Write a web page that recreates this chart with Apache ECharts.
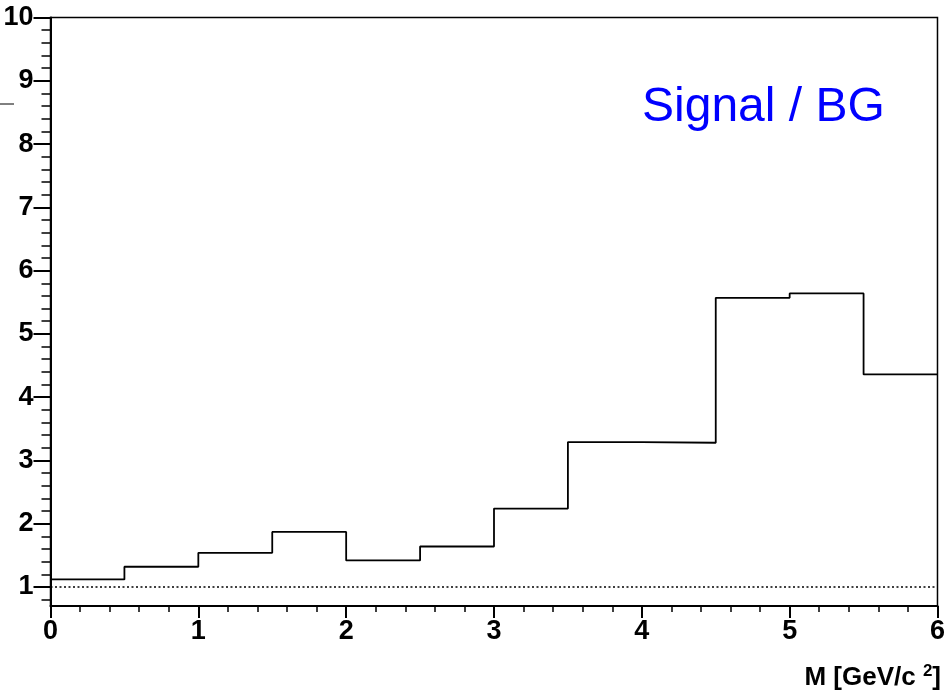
<!DOCTYPE html>
<html>
<head>
<meta charset="utf-8">
<script src="https://cdn.jsdelivr.net/npm/echarts@6/dist/echarts.min.js"></script>
<style>html,body{margin:0;padding:0;background:#fff}#c{width:948px;height:690px}</style>
</head>
<body>
<div id="c"></div>
<script>
// Histogram bins (lower edges), bin width 0.5 GeV/c^2
const binLow = [0, 0.5, 1.0, 1.5, 2.0, 2.5, 3.0, 3.5, 4.0, 4.5, 5.0, 5.5];
const binHighLast = 6.0;
const ratio = [1.12, 1.32, 1.54, 1.87, 1.42, 1.64, 2.24, 3.29, 3.28, 5.57, 5.64, 4.36];
const yMajorTicks = [1, 2, 3, 4, 5, 6, 7, 8, 9, 10];
const yMinorTicks = [0.8, 1.2, 1.4, 1.6, 1.8, 2.2, 2.4, 2.6, 2.8, 3.2, 3.4, 3.6, 3.8,
  4.2, 4.4, 4.6, 4.8, 5.2, 5.4, 5.6, 5.8, 6.2, 6.4, 6.6, 6.8, 7.2, 7.4, 7.6, 7.8,
  8.2, 8.4, 8.6, 8.8, 9.2, 9.4, 9.6, 9.8];
const refLevel = 1;
const labelText = 'Signal / BG';

const stepData = binLow.map((x, i) => [x, ratio[i]]);
stepData.push([binHighLast, ratio[ratio.length - 1]]);

const chart = echarts.init(document.getElementById('c'), null, {renderer: 'canvas'});
const FONT = 'Liberation Sans, Arial, Helvetica, sans-serif';
const yBase = {
  type: 'value', min: 0.7, max: 10, position: 'left',
  splitLine: {show: false},
  axisLine: {show: false}
};
chart.setOption({
  animation: false,
  backgroundColor: '#fff',
  grid: {left: 50.5, right: 7, top: 17.5, bottom: 84, show: true,
    borderColor: '#000', borderWidth: 1.5, backgroundColor: 'transparent'},
  title: [
    {text: labelText, left: 637, top: 79,
      textStyle: {color: '#0000ff', fontFamily: FONT, fontWeight: 'normal', fontSize: 48}},
    {text: '{a|M [GeV/c }{s|2}{a|]}', right: 2, top: 658,
      textStyle: {rich: {
        a: {fontFamily: FONT, fontWeight: 'bold', fontSize: 26, color: '#000', lineHeight: 30},
        s: {fontFamily: FONT, fontWeight: 'bold', fontSize: 17, color: '#000', lineHeight: 30, padding: [0, 0, 13, 0]}
      }}}
  ],
  graphic: [
    {type: 'line', shape: {x1: 0, y1: 104, x2: 14, y2: 104}, style: {stroke: '#000', lineWidth: 1}}
  ],
  xAxis: {
    type: 'value', min: 0, max: 6, interval: 1,
    axisLine: {show: true, onZero: false, lineStyle: {color: '#000', width: 2}},
    axisTick: {show: true, inside: false, length: 12, lineStyle: {color: '#000', width: 2}},
    minorTick: {show: true, splitNumber: 5, length: 6, lineStyle: {color: '#000', width: 1.5}},
    axisLabel: {margin: 12, color: '#000', fontFamily: FONT, fontWeight: 'bold', fontSize: 27},
    splitLine: {show: false}
  },
  yAxis: [
    Object.assign({}, yBase, {
      axisLine: {show: true, lineStyle: {color: '#000', width: 2}},
      axisTick: {show: true, inside: false, length: 17, customValues: yMajorTicks, lineStyle: {color: '#000', width: 2}},
      axisLabel: {show: true, margin: 17, customValues: yMajorTicks, padding: [9, 0, 0, 0],
        color: '#000', fontFamily: FONT, fontWeight: 'bold', fontSize: 27}
    }),
    Object.assign({}, yBase, {
      axisTick: {show: true, inside: false, length: 9, customValues: yMinorTicks, lineStyle: {color: '#000', width: 1.5}},
      axisLabel: {show: false}
    })
  ],
  series: [{
    type: 'line', step: 'end', data: stepData, symbol: 'none', xAxisIndex: 0, yAxisIndex: 0,
    lineStyle: {color: '#000', width: 1.8},
    markLine: {
      silent: true, symbol: 'none', label: {show: false},
      lineStyle: {color: '#000', type: [2, 2.5], width: 1.5},
      data: [{yAxis: refLevel}]
    }
  }]
});
</script>
</body>
</html>
